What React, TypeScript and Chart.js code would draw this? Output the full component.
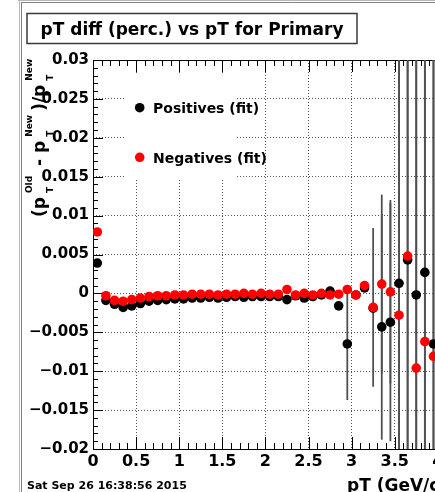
import React, { useEffect, useRef } from "react";
import { Chart, registerables } from "chart.js";

Chart.register(...registerables);

const FONT = "'DejaVu Sans', 'Liberation Sans', sans-serif";

// ---- data ----
const pT = [0.05, 0.15, 0.25, 0.35, 0.45, 0.55, 0.65, 0.75, 0.85, 0.95,
  1.05, 1.15, 1.25, 1.35, 1.45, 1.55, 1.65, 1.75, 1.85, 1.95,
  2.05, 2.15, 2.25, 2.35, 2.45, 2.55, 2.65, 2.75, 2.85, 2.95,
  3.05, 3.15, 3.25, 3.35, 3.45, 3.55, 3.65, 3.75, 3.85, 3.95];

const positives = [0.0039, -0.0009, -0.0014, -0.0018, -0.0016, -0.0013, -0.0010, -0.0009, -0.0008, -0.0007,
  -0.0007, -0.0006, -0.0006, -0.0005, -0.0006, -0.0005, -0.0004, -0.0005, -0.0004, -0.0004,
  -0.0004, -0.0004, -0.0008, -0.0003, -0.0006, -0.0004, -0.0002, 0.0003, -0.0016, -0.0065,
  -0.0002, 0.0007, -0.0019, -0.0043, -0.0037, 0.0013, 0.0043, -0.0002, 0.0027, -0.0065];

const negatives = [0.0079, -0.0003, -0.0009, -0.0010, -0.0008, -0.0006, -0.0004, -0.0003, -0.0003, -0.0002,
  -0.0002, -0.0001, -0.0001, -0.0001, -0.0002, -0.0001, -0.0001, 0.0, -0.0001, 0.0,
  -0.0001, -0.0001, 0.0005, -0.0002, 0.0, -0.0002, 0.0, -0.0002, -0.0001, 0.0005,
  -0.0002, 0.0010, -0.0018, 0.0012, 0.0002, -0.0028, 0.0048, -0.0096, -0.0062, -0.0081];

const positivesErr = [0, 0, 0, 0, 0, 0, 0, 0, 0, 0,
  0, 0, 0, 0, 0, 0, 0, 0, 0, 0,
  0, 0, 0, 0, 0, 0, 0, 0, 0, 0.0072,
  0, 0, 0, 0.0145, 0.0153, 0.05, 0.05, 0.05, 0.05, 0.05];

const negativesErr = [0, 0, 0, 0, 0, 0, 0, 0, 0, 0,
  0, 0, 0, 0, 0, 0, 0, 0, 0, 0,
  0, 0, 0, 0, 0, 0, 0, 0, 0, 0,
  0, 0, 0.0102, 0.0115, 0.0118, 0.05, 0.05, 0.05, 0.05, 0.05];

const xTickValues = [0, 0.5, 1, 1.5, 2, 2.5, 3, 3.5, 4, 4.5, 5];
const xTickLabels = ["0", "0.5", "1", "1.5", "2", "2.5", "3", "3.5", "4", "4.5", "5"];
const yTickValues = [-0.02, -0.015, -0.01, -0.005, 0, 0.005, 0.01, 0.015, 0.02, 0.025, 0.03];
const yTickLabels = ["\u22120.02", "\u22120.015", "\u22120.01", "\u22120.005", "0", "0.005", "0.01", "0.015", "0.02", "0.025", "0.03"];

const seriesLabels = ["Positives (fit)", "Negatives (fit)"];
const seriesColors = ["#000000", "#ff0000"];

const titleText = "pT diff (perc.) vs pT for Primary";
const dateText = "Sat Sep 26 16:38:56 2015";
const xTitle = "pT (GeV/c)";
// y title: (p_T^Old - p_T^New)/p_T^New
const yTitleParts: Array<{ t?: string; sub?: string; sup?: string }> = [
  { t: "(p" }, { sub: "T", sup: "Old" }, { t: " - p" }, { sub: "T", sup: "New" }, { t: ")/p" }, { sub: "T", sup: "New" },
];

function lookup(values: number[], labels: string[], v: number) {
  for (let i = 0; i < values.length; i++) if (Math.abs(values[i] - v) < 1e-9) return labels[i];
  return "";
}

const rootPlugin = {
  id: "rootStyle",
  beforeDraw(chart: any) {
    const ctx = chart.ctx as CanvasRenderingContext2D;
    ctx.save();
    ctx.fillStyle = "#fff";
    ctx.fillRect(0, 0, chart.width, chart.height);
    // canvas bevel
    ctx.lineWidth = 1;
    ctx.strokeStyle = "#b8b8b8";
    ctx.beginPath();
    ctx.moveTo(19.5, 0); ctx.lineTo(19.5, chart.height);
    ctx.moveTo(18, 0.5); ctx.lineTo(chart.width, 0.5);
    ctx.stroke();
    ctx.strokeStyle = "#808080";
    ctx.beginPath();
    ctx.moveTo(21.5, 2); ctx.lineTo(21.5, chart.height);
    ctx.moveTo(21, 2.5); ctx.lineTo(chart.width, 2.5);
    ctx.stroke();
    ctx.restore();
  },
  beforeDatasetsDraw(chart: any) {
    const ctx = chart.ctx as CanvasRenderingContext2D;
    const { left, right, top, bottom } = chart.chartArea;
    const xs = chart.scales.x;
    const ys = chart.scales.y;
    ctx.save();
    // legend background (hides grid)
    ctx.fillStyle = "#fff";
    ctx.fillRect(125, 75, 111, 103);
    // frame
    ctx.strokeStyle = "#000";
    ctx.lineWidth = 1;
    ctx.strokeRect(Math.round(left) + 0.5, Math.round(top) + 0.5, Math.round(right - left), Math.round(bottom - top));
    // ticks
    ctx.beginPath();
    for (let k = 0; k <= 50; k++) {
      const v = xs.min + k * 0.1;
      if (v > xs.max + 1e-9) break;
      const px = Math.round(xs.getPixelForValue(v)) + 0.5;
      const len = k % 5 === 0 ? 12 : 6;
      ctx.moveTo(px, bottom); ctx.lineTo(px, bottom - len);
      ctx.moveTo(px, top); ctx.lineTo(px, top + len);
    }
    for (let k = 0; k <= 50; k++) {
      const v = ys.min + k * 0.001;
      if (v > ys.max + 1e-9) break;
      const py = Math.round(ys.getPixelForValue(v)) + 0.5;
      const len = k % 5 === 0 ? 10 : 5;
      ctx.moveTo(left, py); ctx.lineTo(left + len, py);
      ctx.moveTo(right, py); ctx.lineTo(right - len, py);
    }
    ctx.stroke();
    // error bars
    ctx.beginPath();
    ctx.rect(left, top, right - left, bottom - top);
    ctx.clip();
    ctx.strokeStyle = "#505050";
    ctx.lineWidth = 1.8;
    chart.data.datasets.forEach((ds: any) => {
      const err: number[] = ds.err || [];
      ds.data.forEach((p: any, i: number) => {
        const e = err[i] || 0;
        if (!e) return;
        const px = xs.getPixelForValue(p.x);
        ctx.beginPath();
        ctx.moveTo(px, ys.getPixelForValue(p.y + e));
        ctx.lineTo(px, ys.getPixelForValue(p.y - e));
        ctx.stroke();
      });
    });
    ctx.restore();
  },
  afterDatasetsDraw(chart: any) {
    const ctx = chart.ctx as CanvasRenderingContext2D;
    ctx.save();
    const rows = [107.7, 157.3];
    chart.data.datasets.forEach((ds: any, i: number) => {
      ctx.fillStyle = ds.backgroundColor;
      ctx.beginPath();
      ctx.arc(139.7, rows[i], 4.8, 0, Math.PI * 2);
      ctx.fill();
      ctx.fillStyle = "#000";
      ctx.font = `bold 14px ${FONT}`;
      ctx.textBaseline = "alphabetic";
      ctx.textAlign = "left";
      ctx.fillText(ds.label, 153, rows[i] + 5.3);
    });
    ctx.restore();
  },
  afterDraw(chart: any) {
    const ctx = chart.ctx as CanvasRenderingContext2D;
    ctx.save();
    // title box
    ctx.fillStyle = "#fff";
    ctx.fillRect(27, 13.5, 330, 30);
    ctx.strokeStyle = "#3a3a3a";
    ctx.lineWidth = 1.5;
    ctx.strokeRect(27, 13.5, 330, 30);
    ctx.fillStyle = "#000";
    ctx.font = `bold 17px ${FONT}`;
    ctx.textAlign = "center";
    ctx.textBaseline = "alphabetic";
    ctx.fillText(titleText, 192, 35);
    // date
    ctx.textAlign = "left";
    ctx.font = `bold 11px ${FONT}`;
    ctx.fillText(dateText, 27, 489);
    // x title
    ctx.font = `bold 17px ${FONT}`;
    ctx.fillText(xTitle, 347, 491);
    // y title (rotated)
    ctx.translate(45, 217);
    ctx.rotate(-Math.PI / 2);
    let cx = 0;
    const MAIN = 17, SMALL = 9, GAP = 4;
    for (const part of yTitleParts) {
      if (part.t) {
        ctx.font = `bold ${MAIN}px ${FONT}`;
        ctx.fillText(part.t, cx, 0);
        cx += ctx.measureText(part.t).width + GAP;
      } else {
        ctx.font = `bold ${SMALL}px ${FONT}`;
        const w1 = ctx.measureText(part.sub || "").width;
        const w2 = ctx.measureText(part.sup || "").width;
        ctx.fillText(part.sub || "", cx, 8);
        ctx.fillText(part.sup || "", cx, -13);
        cx += Math.max(w1, w2) + GAP;
      }
    }
    ctx.restore();
  },
};

export default function App() {
  const ref = useRef<HTMLCanvasElement>(null);
  useEffect(() => {
    const canvas = ref.current!;
    const tickFont = { family: FONT, size: 16, weight: "bold" as const };
    const chart = new Chart(canvas, {
      type: "scatter",
      data: {
        datasets: [
          {
            label: seriesLabels[0],
            data: pT.map((x, i) => ({ x, y: positives[i] })),
            backgroundColor: seriesColors[0],
            borderColor: seriesColors[0],
            pointRadius: 4.8,
            pointBorderWidth: 0,
            order: 2,
            err: positivesErr,
          } as any,
          {
            label: seriesLabels[1],
            data: pT.map((x, i) => ({ x, y: negatives[i] })),
            backgroundColor: seriesColors[1],
            borderColor: seriesColors[1],
            pointRadius: 4.8,
            pointBorderWidth: 0,
            order: 1,
            err: negativesErr,
          } as any,
        ],
      },
      options: {
        animation: false,
        responsive: false,
        maintainAspectRatio: false,
        events: [],
        layout: { padding: { left: 0, top: 60, right: 36, bottom: 0 } },
        plugins: { legend: { display: false }, tooltip: { enabled: false }, title: { display: false } },
        scales: {
          x: {
            type: "linear",
            min: 0,
            max: 5,
            afterFit: (s: any) => { s.height = 43; },
            ticks: {
              stepSize: 0.5,
              autoSkip: false,
              maxRotation: 0,
              color: "#000",
              font: tickFont,
              padding: 3,
              callback: (v: any) => lookup(xTickValues, xTickLabels, Number(v)),
            },
            grid: { color: "#555", lineWidth: 1, drawTicks: false },
            border: { display: false, dash: [1, 2] },
          },
          y: {
            type: "linear",
            min: -0.02,
            max: 0.03,
            afterFit: (s: any) => { s.width = 93; },
            ticks: {
              stepSize: 0.005,
              autoSkip: false,
              color: "#000",
              font: { family: FONT, size: 15, weight: "bold" as const },
              padding: 4,
              callback: (v: any) => lookup(yTickValues, yTickLabels, Number(v)),
            },
            grid: { color: "#555", lineWidth: 1, drawTicks: false },
            border: { display: false, dash: [1, 2] },
          },
        },
      } as any,
      plugins: [rootPlugin],
    });
    return () => chart.destroy();
  }, []);
  return (
    <div style={{ position: "fixed", left: 0, top: 0, width: 435, height: 492, overflow: "hidden", background: "#fff" }}>
      <canvas ref={ref} width={560} height={492} style={{ display: "block", width: 560, height: 492 }} />
    </div>
  );
}
